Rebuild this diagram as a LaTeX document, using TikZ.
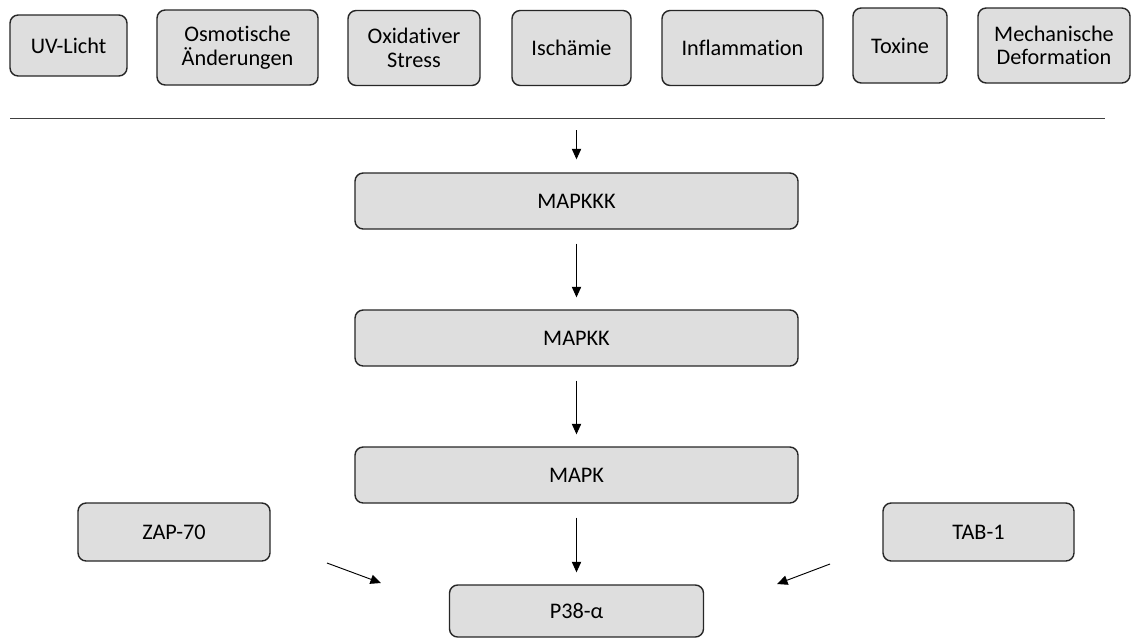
\documentclass[tikz,border=0pt]{standalone}
\usepackage{fontspec}
\setmainfont{Carlito}[Ligatures=NoCommon]
\usetikzlibrary{arrows.meta,positioning}

\begin{document}
\begin{tikzpicture}[
    x=0.03cm,
    y=-0.03cm,
    box/.style={rectangle, draw=black!85, fill=black!13, line width=1.2pt, rounded corners=7pt, align=center, inner sep=0pt, font=\fontsize{19}{20}\selectfont},
    trigger/.style={box, minimum height=2.25cm},
    kinase/.style={box, minimum width=13.29cm, minimum height=1.68cm},
    arrow/.style={-{Triangle[length=9pt, width=8pt]}, line width=0.8pt}
]
\useasboundingbox (0,0) rectangle (1131,639);

% Stress triggers
\node[box, minimum width=3.51cm, minimum height=1.83cm] (uv_light) at (68.5,45.5) {UV-Licht};
\node[trigger, minimum width=4.83cm] (osmotic) at (237.5,47.5) {Osmotische\\Änderungen};
\node[trigger, minimum width=3.96cm] (oxidative) at (414,48) {Oxidativer\\Stress};
\node[trigger, minimum width=3.57cm] (ischemia) at (571.5,48) {Ischämie};
\node[trigger, minimum width=4.83cm] (inflammation) at (742.5,48) {Inflammation};
\node[trigger, minimum width=2.82cm] (toxins) at (900,45.5) {Toxine};
\node[trigger, minimum width=4.56cm] (deformation) at (1054,45.5) {Mechanische\\Deformation};

% Divider
\coordinate (divider_left) at (10,118);
\coordinate (divider_right) at (1105,118);
\coordinate (divider_mid) at (576.5,118);
\draw[black!75, line width=0.6pt] (divider_left) -- (divider_right);

% Kinase cascade
\node[kinase] (mapkkk) at (576.5,201) {MAPKKK};
\node[kinase] (mapkk) at (576.5,338) {MAPKK};
\node[kinase] (mapk) at (576.5,475) {MAPK};
\node[box, minimum width=7.62cm, minimum height=1.56cm] (p38) at (576.5,611) {P38-α};

% Side activators
\node[box, minimum width=5.76cm, minimum height=1.74cm] (zap70) at (174,532) {ZAP-70};
\node[box, minimum width=5.73cm, minimum height=1.74cm] (tab1) at (978.5,532) {TAB-1};
\coordinate (zap70_tail) at (327,563);
\coordinate (zap70_head) at (381,583);
\coordinate (tab1_tail) at (830,564);
\coordinate (tab1_head) at (777,584);

% Connections
\draw[arrow, shorten <=0.36cm, shorten >=0.39cm] (divider_mid) -- (mapkkk.north);
\draw[arrow, shorten <=0.42cm, shorten >=0.36cm] (mapkkk) -- (mapkk);
\draw[arrow, shorten <=0.42cm, shorten >=0.36cm] (mapkk) -- (mapk);
\draw[arrow, shorten <=0.42cm, shorten >=0.36cm] (mapk) -- (p38);
\draw[arrow] (zap70_tail) -- (zap70_head);
\draw[arrow] (tab1_tail) -- (tab1_head);

\end{tikzpicture}
\end{document}
